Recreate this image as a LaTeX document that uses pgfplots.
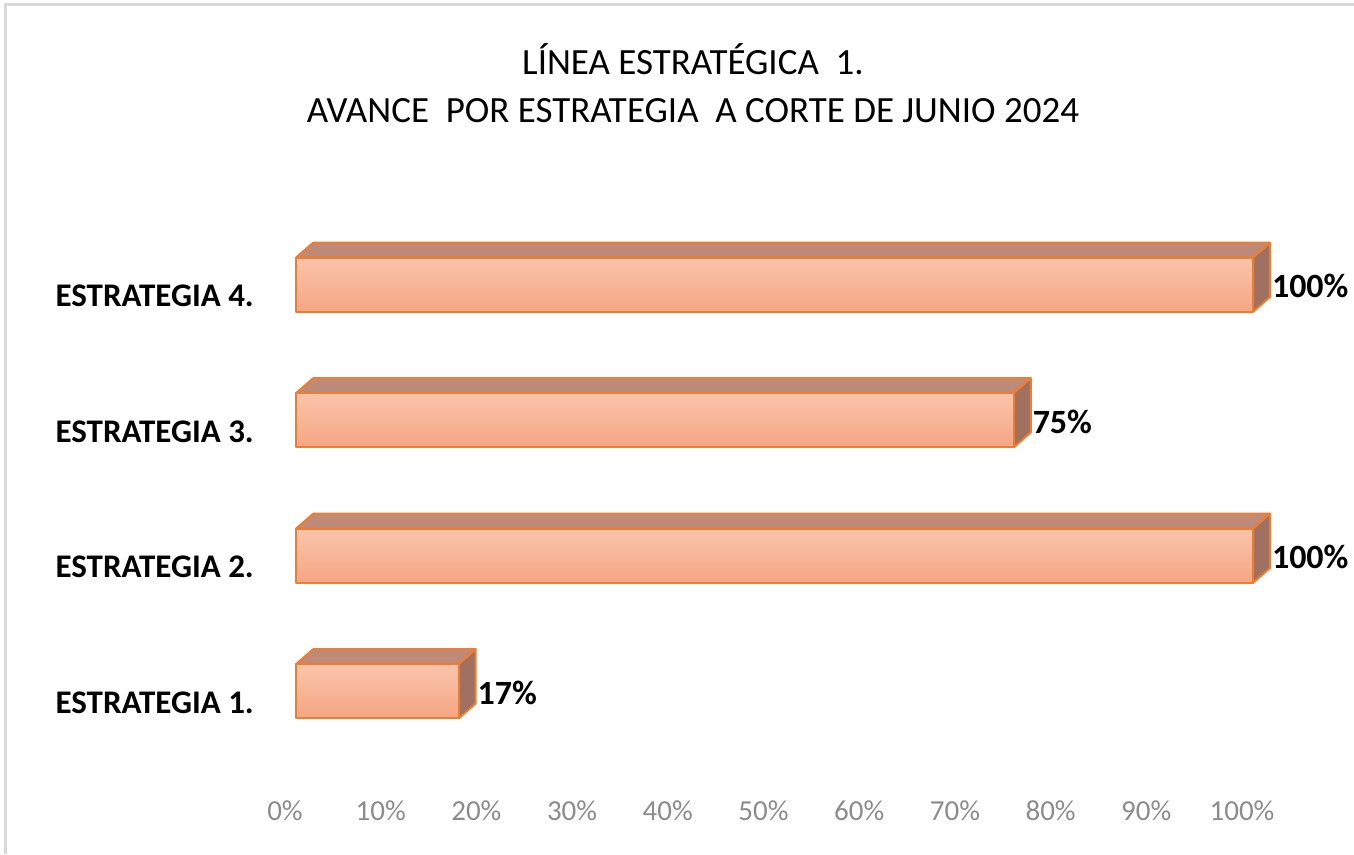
\documentclass[border=0pt]{standalone}
\usepackage{fontspec}
\setmainfont{Carlito}
\usepackage{pgfplots}
\pgfplotsset{compat=1.18}
\definecolor{barEdge}{RGB}{237,125,49}
\definecolor{frontTop}{RGB}{249,196,170}
\definecolor{frontBot}{RGB}{245,166,132}
\definecolor{topFace}{RGB}{191,139,120}
\definecolor{sideFace}{RGB}{160,113,97}
\definecolor{tickGray}{RGB}{140,140,140}
\definecolor{frameGray}{RGB}{217,217,217}
\begin{document}
\begin{tikzpicture}[x=1pt,y=1pt]
\path[use as bounding box] (0,0) rectangle (1354,854);
\draw[frameGray, line width=3pt] (5,0) -- (5,849) -- (1354,849);
\node[anchor=base, inner sep=0pt, font=\fontsize{37}{44}\selectfont] at (693,779) {LÍNEA ESTRATÉGICA\ \ 1.};
\node[anchor=base, inner sep=0pt, font=\fontsize{37}{44}\selectfont] at (693,731) {AVANCE\ \ POR ESTRATEGIA\ \ A CORTE DE JUNIO 2024};
\begin{axis}[
  at={(296pt,95pt)}, anchor=south west,
  scale only axis, width=957pt, height=542pt,
  xmin=0, xmax=100, ymin=0.5, ymax=4.5,
  clip=false,
  axis line style={draw=none},
  tick style={draw=none},
  /pgf/number format/assume math mode=true,
  xtick={0,10,20,30,40,50,60,70,80,90,100},
  xticklabels={0\%,10\%,20\%,30\%,40\%,50\%,60\%,70\%,80\%,90\%,100\%},
  xticklabel style={font=\fontsize{29}{34}\selectfont, text=tickGray, anchor=base, inner sep=0pt, yshift=-61pt, xshift=-11pt},
  ytick={1,2,3,4},
  yticklabels={ESTRATEGIA 1.,ESTRATEGIA 2.,ESTRATEGIA 3.,ESTRATEGIA 4.},
  yticklabel style={font=\fontsize{33}{40}\selectfont\bfseries, anchor=base east, inner sep=0pt, xshift=-42pt, yshift=-22pt},
  face/.style={draw=barEdge, line width=2pt, line join=round, mark=none},
  front/.style={xbar, bar width=54pt, bar shift=0pt, draw=barEdge, line width=2pt, line join=round,
    top color=frontTop, bottom color=frontBot,
    point meta=x,
    nodes near coords={\pgfmathprintnumber{\pgfplotspointmeta}\%},
    nodes near coords align={horizontal},
    every node near coord/.append style={font=\fontsize{34}{40}\selectfont\bfseries, text=black, anchor=base west, inner sep=0pt, xshift=18pt, yshift=-13pt}},
]
% top faces
\addplot[face, fill=topFace] coordinates {(0,1.2) (17,1.2) (18.78,1.31) (1.78,1.31)} --cycle;
\addplot[face, fill=topFace] coordinates {(0,2.2) (100,2.2) (101.78,2.31) (1.78,2.31)} --cycle;
\addplot[face, fill=topFace] coordinates {(0,3.2) (75,3.2) (76.78,3.31) (1.78,3.31)} --cycle;
\addplot[face, fill=topFace] coordinates {(0,4.2) (100,4.2) (101.78,4.31) (1.78,4.31)} --cycle;
% side faces
\addplot[face, fill=sideFace] coordinates {(17,0.8) (18.78,0.91) (18.78,1.31) (17,1.2)} --cycle;
\addplot[face, fill=sideFace] coordinates {(100,1.8) (101.78,1.91) (101.78,2.31) (100,2.2)} --cycle;
\addplot[face, fill=sideFace] coordinates {(75,2.8) (76.78,2.91) (76.78,3.31) (75,3.2)} --cycle;
\addplot[face, fill=sideFace] coordinates {(100,3.8) (101.78,3.91) (101.78,4.31) (100,4.2)} --cycle;
% front faces
\addplot[front] coordinates {(17,1)};
\addplot[front] coordinates {(100,2)};
\addplot[front] coordinates {(75,3)};
\addplot[front] coordinates {(100,4)};
\end{axis}
\end{tikzpicture}
\end{document}
